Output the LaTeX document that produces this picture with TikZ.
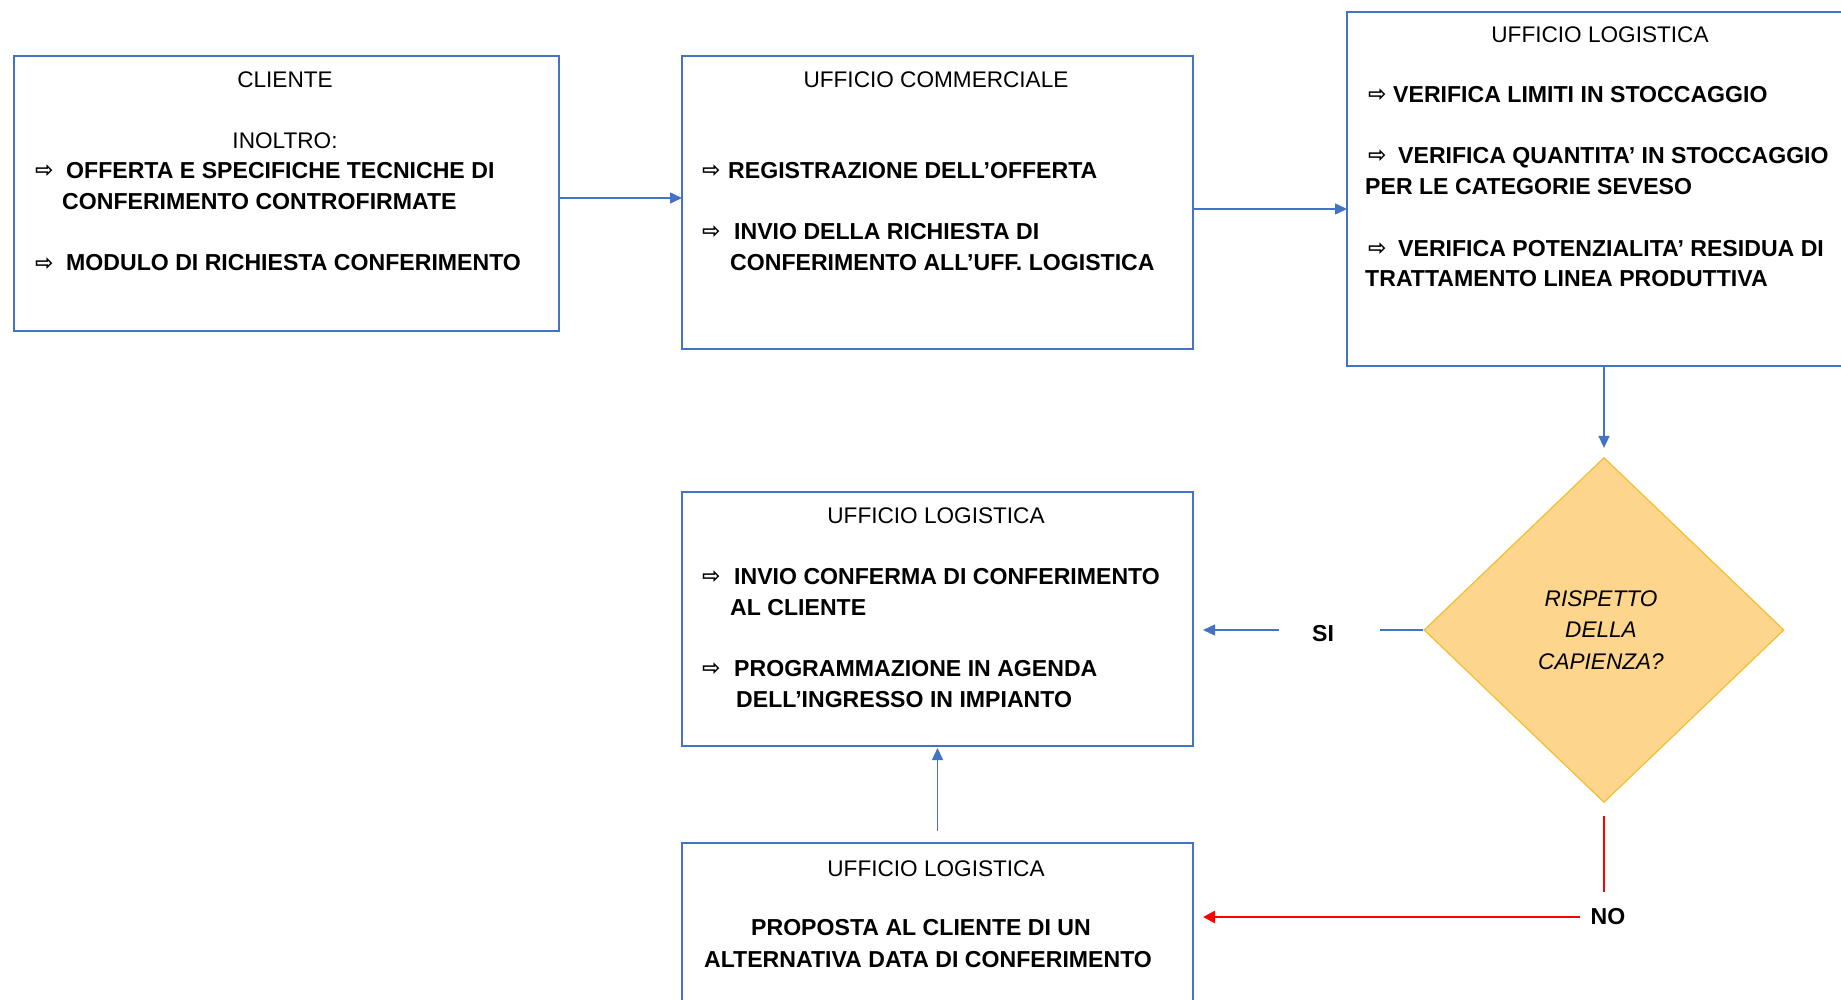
\documentclass[tikz,border=0pt]{standalone}
\usepackage{fontspec}
\setmainfont{Liberation Sans}
\newfontfamily\symfont{DejaVu Sans}
\usetikzlibrary{arrows.meta,shapes.geometric,calc}
\definecolor{bblue}{RGB}{68,114,196}
\definecolor{rred}{RGB}{255,0,0}
\definecolor{dfill}{RGB}{253,213,140}
\definecolor{dline}{RGB}{244,190,50}
\newcommand\ptr[1]{\makebox[#1pt][l]{\raisebox{1pt}{\symfont\bfseries\fontsize{22}{22}\selectfont ⇨}}}
\begin{document}
\begin{tikzpicture}[x=1pt,y=-1pt,
  box/.style={draw=bblue,line width=1.5pt,anchor=north west,inner sep=0pt,outer sep=0pt},
  ttl/.style={anchor=base,inner sep=0pt,font=\fontsize{22.6}{30.6}\selectfont},
  itm/.style={anchor=base west,inner sep=0pt,font=\fontsize{23.1}{30.6}\selectfont\bfseries},
  ctr/.style={anchor=base,inner sep=0pt,font=\fontsize{23.1}{30.6}\selectfont\bfseries},
  dtx/.style={anchor=base,inner sep=0pt,font=\fontsize{22.6}{30.6}\selectfont\itshape},
  lbl/.style={anchor=center,inner sep=0pt,font=\fontsize{23.1}{30.6}\selectfont\bfseries},
  bline/.style={draw=bblue,line width=1.5pt},
  barr/.style={draw=bblue,fill=bblue,line width=1.5pt,-{Triangle[length=12pt,width=11pt]}},
  rline/.style={draw=rred,line width=1.5pt},
  rarr/.style={draw=rred,fill=rred,line width=2.5pt,-{Triangle[length=12pt,width=12pt]}}
]
\useasboundingbox (0,0) rectangle (1841,1000);
\clip (0,0) rectangle (1841,1000);

% boxes
\node[box,minimum width=545pt,minimum height=275pt] (b1) at (14,56) {};
\node[box,minimum width=511pt,minimum height=293pt] (b2) at (682,56) {};
\node[box,minimum width=514pt,minimum height=354pt] (b3) at (1347,12) {};
\node[box,minimum width=511pt,minimum height=254pt] (b4) at (682,492) {};
\node[box,minimum width=511pt,minimum height=180pt] (b5) at (682,843) {};
\node[diamond,draw=dline,fill=dfill,line width=1.2pt,inner sep=0pt,minimum width=360pt,minimum height=345pt] (dia) at (1604,630) {};

% box 1 text
\node[ttl] (t1a) at (285,88) {CLIENTE};
\node[ttl] (t1b) at (285,149) {INOLTRO:};
\node[itm] (t1c) at (35,179) {\ptr{31}OFFERTA E SPECIFICHE TECNICHE DI};
\node[itm] (t1d) at (62,210) {CONFERIMENTO CONTROFIRMATE};
\node[itm] (t1e) at (35,271) {\ptr{31}MODULO DI RICHIESTA CONFERIMENTO};

% box 2 text
\node[ttl] (t2a) at (936,88) {UFFICIO COMMERCIALE};
\node[itm] (t2b) at (702,179) {\ptr{26}REGISTRAZIONE DELL’OFFERTA};
\node[itm] (t2c) at (702,240) {\ptr{32}INVIO DELLA RICHIESTA DI};
\node[itm] (t2d) at (730,271) {CONFERIMENTO ALL’UFF. LOGISTICA};

% box 3 text
\node[ttl] (t3a) at (1600,43) {UFFICIO LOGISTICA};
\node[itm] (t3b) at (1368,103) {\ptr{25}VERIFICA LIMITI IN STOCCAGGIO};
\node[itm] (t3c) at (1368,164) {\ptr{30}VERIFICA QUANTITA’ IN STOCCAGGIO};
\node[itm] (t3d) at (1365,195) {PER LE CATEGORIE SEVESO};
\node[itm] (t3e) at (1368,257) {\ptr{30}VERIFICA POTENZIALITA’ RESIDUA DI};
\node[itm] (t3f) at (1365,287) {TRATTAMENTO LINEA PRODUTTIVA};

% box 4 text
\node[ttl] (t4a) at (936,523) {UFFICIO LOGISTICA};
\node[itm] (t4b) at (702,584) {\ptr{32}INVIO CONFERMA DI CONFERIMENTO};
\node[itm] (t4c) at (730,615) {AL CLIENTE};
\node[itm] (t4d) at (702,676) {\ptr{32}PROGRAMMAZIONE IN AGENDA};
\node[itm] (t4e) at (736,707) {DELL’INGRESSO IN IMPIANTO};

% box 5 text
\node[ttl] (t5a) at (936,876) {UFFICIO LOGISTICA};
\node[ctr] (t5b) at (921,935) {PROPOSTA AL CLIENTE DI UN};
\node[ctr] (t5c) at (928,967) {ALTERNATIVA DATA DI CONFERIMENTO};

% diamond text
\node[dtx] (d1) at (1601,606) {RISPETTO};
\node[dtx] (d2) at (1601,637) {DELLA};
\node[dtx] (d3) at (1601,669) {CAPIENZA?};

% labels
\node[lbl] (si) at (1323,634) {SI};
\node[lbl] (no) at (1608,917) {NO};

% connectors
\draw[barr] ([yshift=-4.5pt]b1.east) -- ([yshift=4.5pt]b2.west);
\draw[barr] ([yshift=-6.5pt]b2.east) -- ([yshift=-20pt]b3.west);
\draw[barr,shorten >=9pt] (b3.south) -- (dia.north);
\draw[bline,shorten >=46pt] (dia.west) -- (si.east |- dia.west);
\draw[barr,shorten <=33pt,shorten >=10pt] (si.west |- dia.west) -- (b4.east |- dia.west);
\draw[rline,shorten <=13pt,shorten >=17pt] (dia.south) -- (dia.south |- no.north);
\draw[rarr,shorten <=10pt,shorten >=10pt] (no.west) -- (b5.east |- no.west);
\draw[barr,shorten <=12pt,shorten >=2pt] (b5.north) -- (b4.south);
\end{tikzpicture}
\end{document}
